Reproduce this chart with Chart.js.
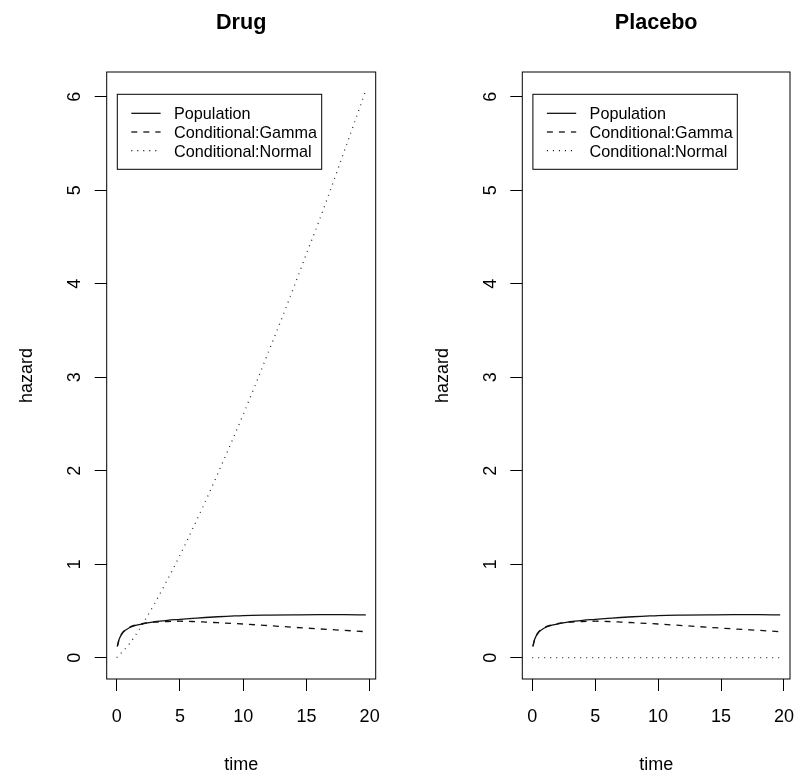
<!DOCTYPE html>
<html><head><meta charset="utf-8">
<script src="https://cdn.jsdelivr.net/npm/chart.js@4.4.1/dist/chart.umd.min.js"></script>
<style>
html,body{margin:0;padding:0;background:#fff;}
#wrap{position:relative;width:796px;height:771px;overflow:hidden;}
canvas{position:absolute;top:0;}
</style></head><body>
<div id="wrap"><canvas id="c1" width="398" height="771" style="left:0"></canvas><canvas id="c2" width="430" height="771" style="left:398px"></canvas></div>
<script>
const panelTitles = ["Drug", "Placebo"];
const seriesNames = ["Population", "Conditional:Gamma", "Conditional:Normal"];
const timeFine = [0.05, 0.2, 0.5, 1, 1.5, 2, 3, 4, 5, 6, 7, 8, 9, 10, 12, 14, 16, 18, 19.7];
const population = [0.12, 0.2, 0.27, 0.32, 0.345, 0.36, 0.385, 0.40, 0.41, 0.42, 0.43, 0.438, 0.444, 0.45, 0.455, 0.458, 0.46, 0.46, 0.457];
const gamma = [0.12, 0.2, 0.275, 0.325, 0.35, 0.365, 0.38, 0.387, 0.39, 0.387, 0.381, 0.374, 0.367, 0.36, 0.343, 0.325, 0.308, 0.292, 0.278];
const timeNormal = [0, 1, 2, 3, 4, 5, 6, 7, 8, 9, 10, 11, 12, 13, 14, 15, 16, 17, 18, 19, 19.7];
const drugNormal = [0, 0.147, 0.349, 0.579, 0.83, 1.095, 1.376, 1.667, 1.97, 2.28, 2.60, 2.93, 3.27, 3.61, 3.96, 4.32, 4.67, 5.04, 5.42, 5.80, 6.07];
const placeboNormal = [0, 0, 0, 0, 0, 0, 0, 0, 0, 0, 0, 0, 0, 0, 0, 0, 0, 0, 0, 0, 0];
const xTicks = [0, 5, 10, 15, 20];
const yTicks = [0, 1, 2, 3, 4, 5, 6];

const FONT = '"Liberation Sans", Arial, Helvetica, sans-serif';
const areas = [{left: 106.7, right: 375.7, w: 398}, {left: 124.3, right: 392, w: 430}];
const TOP = 72, BOTTOM = 679, H = 771;
const dashes = [[], [6, 6], [1, 5]];
const colors = ['#111', '#111', '#333'];

const decor = {
  id: 'decor',
  afterDraw(chart) {
    const ctx = chart.ctx, ca = chart.chartArea, ys = chart.scales.y;
    const idx = chart.options.plugins.decor.idx;
    ctx.save();
    ctx.strokeStyle = '#000'; ctx.lineWidth = 1;
    ctx.setLineDash([]);
    ctx.strokeRect(ca.left, ca.top, ca.right - ca.left, ca.bottom - ca.top);
    ctx.fillStyle = '#000';
    ctx.font = '18px ' + FONT;
    ctx.textAlign = 'center'; ctx.textBaseline = 'alphabetic';
    ys.ticks.forEach(t => {
      const py = ys.getPixelForValue(t.value);
      ctx.save(); ctx.translate(ca.left - 26.7, py); ctx.rotate(-Math.PI / 2);
      ctx.fillText(String(t.value), 0, 0); ctx.restore();
    });
    const cy = (ca.top + ca.bottom) / 2, cx = (ca.left + ca.right) / 2;
    ctx.save(); ctx.translate(ca.left - 74.5, cy); ctx.rotate(-Math.PI / 2);
    ctx.fillText('hazard', 0, 0); ctx.restore();
    ctx.fillText('time', cx, 770);
    ctx.font = 'bold 21.6px ' + FONT;
    ctx.fillText(panelTitles[idx], cx, 29);
    // legend
    const bl = ca.left + 10.6, bt = 94.3, bw = 204.4, bh = 75;
    ctx.strokeRect(bl, bt, bw, bh);
    ctx.font = '16.2px ' + FONT;
    ctx.textAlign = 'left';
    const base = [119.3, 138, 156.7];
    chart.data.datasets.forEach((ds, i) => {
      const ly = base[i] - 6;
      ctx.beginPath(); ctx.setLineDash(ds.borderDash || []);
      ctx.lineWidth = 1.2; ctx.strokeStyle = '#000';
      ctx.moveTo(bl + 14, ly); ctx.lineTo(bl + 43.3, ly); ctx.stroke();
      ctx.setLineDash([]);
      ctx.fillText(ds.label, bl + 56.7, base[i]);
    });
    ctx.restore();
  }
};

function makeChart(id, idx, normal) {
  const a = areas[idx];
  const mk = (xs, ys) => xs.map((t, i) => ({x: t, y: ys[i]}));
  const series = [mk(timeFine, population), mk(timeFine, gamma), mk(timeNormal, normal)];
  const gridOpt = {drawOnChartArea: false, drawTicks: true, tickLength: 12, color: '#000', tickColor: '#000', tickWidth: 1, lineWidth: 1};
  new Chart(document.getElementById(id), {
    type: 'line',
    data: {datasets: series.map((d, i) => ({
      label: seriesNames[i], data: d, borderColor: colors[i], borderWidth: 1.3,
      borderDash: dashes[i], pointRadius: 0, fill: false,
      cubicInterpolationMode: 'monotone'
    }))},
    options: {
      responsive: false, animation: false, devicePixelRatio: 1,
      layout: {padding: {left: 0, top: TOP, right: a.w - a.right, bottom: 0}},
      plugins: {legend: {display: false}, tooltip: {enabled: false}, title: {display: false}, decor: {idx: idx}},
      scales: {
        x: {
          type: 'linear', min: -0.79, max: 20.48,
          afterBuildTicks: s => { s.ticks = xTicks.map(v => ({value: v})); },
          ticks: {font: {family: FONT, size: 18}, color: '#000', padding: 15, maxRotation: 0, autoSkip: false, includeBounds: false},
          grid: gridOpt, border: {display: false},
          afterFit: s => { s.height = H - BOTTOM; }
        },
        y: {
          type: 'linear', min: -0.228, max: 6.264,
          afterBuildTicks: s => { s.ticks = yTicks.map(v => ({value: v})); },
          ticks: {display: false, includeBounds: false},
          grid: gridOpt, border: {display: false},
          afterFit: s => { s.width = a.left; }
        }
      }
    },
    plugins: [decor]
  });
}
makeChart('c1', 0, drugNormal);
makeChart('c2', 1, placeboNormal);
</script>
</body></html>
